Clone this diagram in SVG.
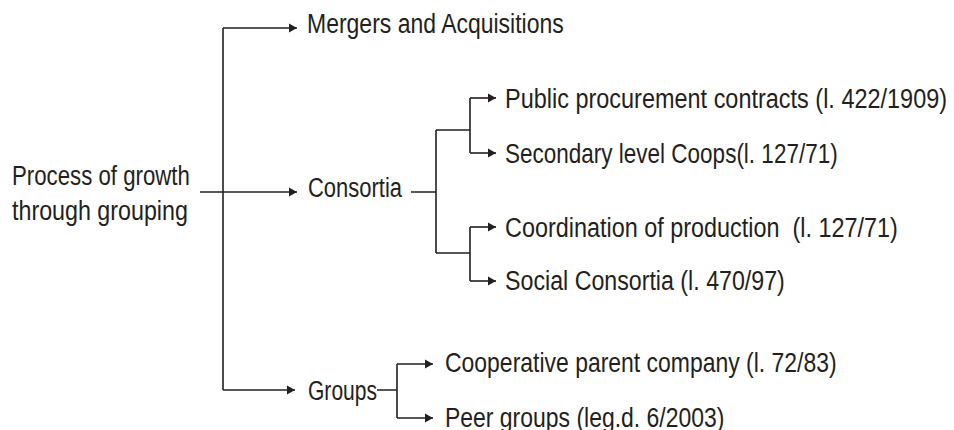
<svg xmlns="http://www.w3.org/2000/svg" width="954" height="430" viewBox="0 0 954 430">
  <style>
    .lbl { font-family: "Liberation Sans", Arial, sans-serif; font-size: 28px; fill: #231f20; white-space: pre; }
    .ln { fill: none; stroke: #231f20; stroke-width: 1.6; }
    .arr { marker-end: url(#head); }
  </style>
  <defs>
    <marker id="head" markerUnits="userSpaceOnUse" markerWidth="9" markerHeight="10" refX="8" refY="5" orient="auto">
      <path d="M0,0.5 L8,5 L0,9.5 Z" fill="#231f20"/>
    </marker>
  </defs>

  <!-- connectors -->
  <g id="connectors">
    <!-- root trunk -->
    <path class="ln" d="M223,28 V390"/>
    <path class="ln arr" d="M223,28 H297"/>
    <path class="ln arr" d="M200,192 H297"/>
    <path class="ln arr" d="M223,390 H295"/>
    <!-- consortia branch -->
    <path class="ln" d="M411,192 H436 M436,130 V253 M436,130 H470 M436,253 H470 M470,98 V153 M470,227 V281"/>
    <path class="ln arr" d="M470,98 H496"/>
    <path class="ln arr" d="M470,153 H496"/>
    <path class="ln arr" d="M470,227 H496"/>
    <path class="ln arr" d="M470,281 H496"/>
    <!-- groups branch -->
    <path class="ln" d="M377,390 H397 M397,364 V418"/>
    <path class="ln arr" d="M397,364 H433"/>
    <path class="ln arr" d="M397,418 H433"/>
  </g>

  <!-- labels: condensed look via horizontal scaling -->
  <g id="root">
    <text class="lbl" transform="translate(12,185) scale(0.794,1)">Process of growth</text>
    <text class="lbl" transform="translate(12,220) scale(0.831,1)">through grouping</text>
  </g>
  <g id="mergers">
    <text class="lbl" transform="translate(307,33) scale(0.821,1)">Mergers and Acquisitions</text>
  </g>
  <g id="consortia">
    <text class="lbl" transform="translate(308,197) scale(0.785,1)">Consortia</text>
  </g>
  <g id="public-procurement">
    <text class="lbl" transform="translate(505,108) scale(0.838,1)">Public procurement contracts (l. 422/1909)</text>
  </g>
  <g id="secondary-coops">
    <text class="lbl" transform="translate(505,163) scale(0.804,1)">Secondary level Coops(l. 127/71)</text>
  </g>
  <g id="coordination">
    <text class="lbl" transform="translate(505,237) scale(0.836,1)" xml:space="preserve">Coordination of production  (l. 127/71)</text>
  </g>
  <g id="social-consortia">
    <text class="lbl" transform="translate(505,290) scale(0.829,1)">Social Consortia (l. 470/97)</text>
  </g>
  <g id="groups">
    <text class="lbl" transform="translate(308,400) scale(0.752,1)">Groups</text>
  </g>
  <g id="cooperative-parent">
    <text class="lbl" transform="translate(445,372) scale(0.82,1)">Cooperative parent company (l. 72/83)</text>
  </g>
  <g id="peer-groups">
    <text class="lbl" transform="translate(445,427) scale(0.82,1)">Peer groups (leg.d. 6/2003)</text>
  </g>
</svg>
